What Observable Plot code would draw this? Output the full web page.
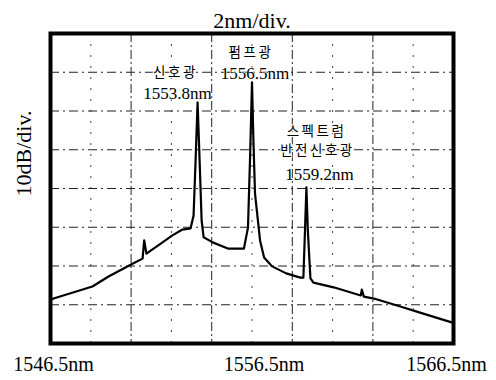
<!DOCTYPE html>
<html>
<head>
<meta charset="utf-8">
<script src="https://cdn.jsdelivr.net/npm/d3@7"></script>
<script src="https://cdn.jsdelivr.net/npm/@observablehq/plot@0.6"></script>
<style>
  html, body { margin: 0; padding: 0; background: #fff; }
  #chart svg { display: block; }
  g[font-family*="CJK"] text { letter-spacing: 2.5px; }
</style>
</head>
<body>
<div id="chart"></div>
<script>
// Wavelength (nm) and relative power (dB)
const wavelength = [1546.5, 1546.65, 1548.58, 1549.38, 1550.57, 1551.07, 1551.15, 1551.26, 1552.06, 1552.55, 1553.05, 1553.45, 1553.6, 1553.7, 1553.8, 1553.9, 1554.0, 1554.1, 1554.55, 1555.3, 1556.1, 1556.3, 1556.4, 1556.5, 1556.57, 1556.65, 1556.9, 1557.1, 1557.5, 1558.2, 1558.9, 1559.05, 1559.13, 1559.2, 1559.27, 1559.4, 1559.55, 1560.55, 1561.9, 1561.95, 1562.05, 1562.55, 1563.7, 1565.0, 1566.45];
const power = [-68.8, -68.4, -65.3, -62.7, -59.4, -58.1, -53.4, -56.8, -53.9, -52.1, -50.6, -50.3, -47.0, -32.8, -17.8, -32.8, -48.3, -52.6, -53.9, -55.5, -55.5, -50.1, -32.8, -12.6, -27.6, -41.3, -53.4, -57.8, -60.1, -61.9, -63.0, -63.0, -50.8, -39.7, -50.8, -63.2, -64.3, -65.5, -67.6, -66.1, -67.9, -68.4, -70.2, -72.3, -74.6];

const xTicks = [1546.5, 1556.5, 1566.5];
const majorGrid = [1550.5, 1554.5, 1558.5, 1562.5];
const minorGrid = [1548.5, 1552.5, 1556.5, 1560.5, 1564.5];
const hGrid = [-10, -20, -30, -40, -50, -60, -70];

const labelLines = ["신호광", "1553.8nm", "펌프광", "1556.5nm", "스펙트럼", "반전신호광", "1559.2nm"];
const labelX = [1552.7, 1552.8, 1556.45, 1556.65, 1559.7, 1559.75, 1559.85];
const labelY = [-10.0, -15.4, -5.0, -10.3, -25.4, -30.2, -36.3];
const labelKind = ["ko", "num", "ko", "num", "ko", "ko", "num"];

const data = wavelength.map((w, i) => ({w, p: power[i]}));
const labels = labelLines.map((t, i) => ({t, x: labelX[i], y: labelY[i], k: labelKind[i]}));

const serif = "'Liberation Serif', 'DejaVu Serif', serif";
const tickDx = [3, 12, -7];

const chart = Plot.plot({
  width: 496,
  height: 380,
  marginLeft: 50,
  marginRight: 43,
  marginTop: 33,
  marginBottom: 37,
  style: {fontFamily: serif, background: "#fff", color: "#000"},
  x: {domain: [1546.5, 1566.5]},
  y: {domain: [-80, 0]},
  marks: [
    Plot.ruleX(majorGrid, {stroke: "#222", strokeWidth: 1, strokeDasharray: "9,3,2,3"}),
    Plot.ruleX(minorGrid, {stroke: "#444", strokeWidth: 1, strokeDasharray: "2,9"}),
    Plot.ruleY(hGrid, {stroke: "#222", strokeWidth: 1, strokeDasharray: "9,4,2,4"}),
    Plot.line(data, {x: "w", y: "p", stroke: "#000", strokeWidth: 2.2, curve: "linear"}),
    Plot.text(labels.filter(d => d.k === "ko"), {x: "x", y: "y", text: "t", fontFamily: "'Noto Sans CJK KR'", fontSize: 13.5, fill: "#000", stroke: "#fff", strokeWidth: 2, paintOrder: "stroke"}),
    Plot.text(labels.filter(d => d.k === "num"), {x: "x", y: "y", text: "t", fontFamily: serif, fontSize: 17, fill: "#000", stroke: "#fff", strokeWidth: 1, paintOrder: "stroke"}),
    Plot.frame({stroke: "#000", strokeWidth: 4}),
    ...xTicks.map((t, i) => Plot.axisX([t], {tickSize: 0, tickPadding: 13, dx: tickDx[i], tickFormat: d => d + "nm", fontSize: 20, fontFamily: serif, label: null})),
    Plot.axisY({ticks: [], label: null}),
    Plot.text(["2nm/div."], {frameAnchor: "top", dy: -21, fontSize: 22, fontFamily: serif}),
    Plot.text(["10dB/div."], {frameAnchor: "left", dx: -27, dy: 8, rotate: -90, fontSize: 22, fontFamily: serif})
  ]
});
document.getElementById("chart").append(chart);
</script>
</body>
</html>
